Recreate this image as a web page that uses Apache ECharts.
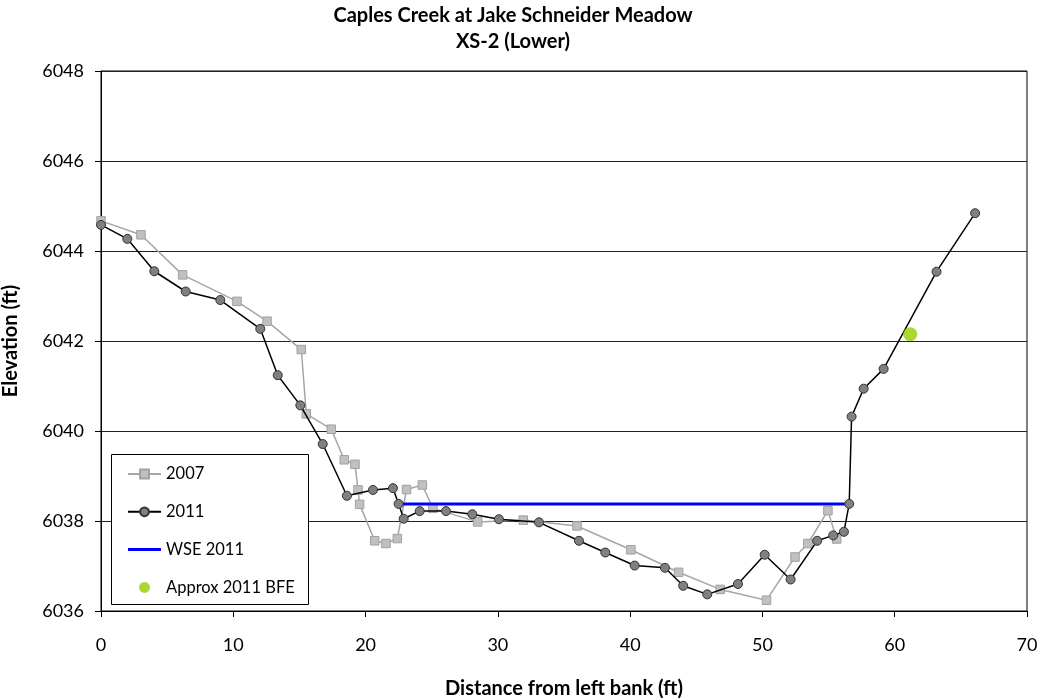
<!DOCTYPE html>
<html>
<head>
<meta charset="utf-8">
<script src="https://cdn.jsdelivr.net/npm/echarts@6/dist/echarts.min.js"></script>
<style>
  html, body { margin: 0; padding: 0; background: #fff; }
  #chart { width: 1044px; height: 700px; }
</style>
</head>
<body>
<div id="chart"></div>
<script>
// Cross-section survey, distance from left bank (ft) vs elevation (ft)
const dist2007 = [0, 3.02, 6.17, 10.28, 12.55, 15.14, 15.52, 17.41, 18.39, 19.2, 19.43, 19.55, 20.69, 21.54, 22.4, 23.1, 24.29, 25.09, 28.47, 31.92, 35.98, 40.06, 43.66, 46.81, 50.31, 52.46, 53.44, 54.95, 55.61];
const elev2007 = [6044.67, 6044.36, 6043.47, 6042.88, 6042.44, 6041.81, 6040.38, 6040.04, 6039.36, 6039.26, 6038.69, 6038.37, 6037.56, 6037.5, 6037.61, 6038.7, 6038.8, 6038.28, 6037.98, 6038.02, 6037.89, 6037.36, 6036.86, 6036.48, 6036.24, 6037.2, 6037.5, 6038.23, 6037.6];

const dist2011 = [0, 1.99, 4.03, 6.4, 9.02, 12.04, 13.36, 15.07, 16.76, 18.59, 20.56, 22.07, 22.5, 22.88, 24.09, 26.08, 28.07, 30.08, 33.11, 36.13, 38.12, 40.34, 42.63, 44.01, 45.83, 48.15, 50.17, 52.13, 54.14, 55.35, 56.16, 56.56, 56.74, 57.65, 59.16, 63.16, 66.08];
const elev2011 = [6044.58, 6044.27, 6043.55, 6043.1, 6042.91, 6042.27, 6041.24, 6040.57, 6039.71, 6038.56, 6038.69, 6038.73, 6038.38, 6038.05, 6038.22, 6038.22, 6038.15, 6038.04, 6037.97, 6037.56, 6037.3, 6037.01, 6036.96, 6036.56, 6036.37, 6036.6, 6037.25, 6036.7, 6037.56, 6037.68, 6037.76, 6038.38, 6040.32, 6040.94, 6041.38, 6043.54, 6044.84];

// Water surface elevation 2011 (start and end stations)
const wseDist = [22.5, 56.56];
const wseElev = [6038.38, 6038.38];

// Approximate 2011 base flood elevation
const bfeDist = [61.17];
const bfeElev = [6042.15];

const xTicks = [0, 70, 10];
const yTicks = [6036, 6048, 2];

const pairs = (xs, ys) => xs.map((x, i) => [x, ys[i]]);

const FONT = 'Lato, "Open Sans", sans-serif';

const chart = echarts.init(document.getElementById('chart'), null, { renderer: 'canvas' });
chart.setOption({
  animation: false,
  backgroundColor: '#ffffff',
  textStyle: { fontFamily: FONT, color: '#000' },
  title: {
    text: 'Caples Creek at Jake Schneider Meadow\nXS-2 (Lower)',
    left: 508,
    textAlign: 'center',
    top: -2,
    textStyle: { fontFamily: FONT, fontSize: 20, fontWeight: 700, color: '#000', lineHeight: 26 }
  },
  grid: {
    left: 101, right: 17, top: 71, bottom: 89,
    outerBoundsMode: 'none',
    containLabel: false,
    show: true, borderColor: '#000', borderWidth: 1, backgroundColor: 'transparent'
  },
  // Legend frame
  graphic: [{
    type: 'rect',
    left: 111, top: 454, z: 50,
    shape: { width: 197, height: 150 },
    style: { fill: '#fff', stroke: '#000', lineWidth: 1 }
  }],
  legend: {
    orient: 'vertical',
    left: 111,
    top: 454,
    z: 100,
    itemWidth: 33,
    itemHeight: 11,
    itemGap: 17.8,
    padding: [10, 10, 6, 16],
    textStyle: { fontFamily: FONT, fontSize: 16.5, color: '#000', lineHeight: 20 },
    data: [
      { name: '2007' },
      { name: '2011' },
      { name: 'WSE 2011', icon: 'path://M0,0L33,0L33,3L0,3Z' },
      { name: 'Approx 2011 BFE', icon: 'circle' }
    ]
  },
  xAxis: {
    type: 'value',
    min: xTicks[0], max: xTicks[1], interval: xTicks[2],
    name: 'Distance from left bank (ft)',
    nameLocation: 'middle',
    nameGap: 68,
    nameTextStyle: { fontFamily: FONT, fontSize: 20, fontWeight: 700, color: '#000' },
    axisLine: { onZero: false, lineStyle: { color: '#000', width: 1 } },
    axisTick: { show: true, inside: false, length: 6, lineStyle: { color: '#000' } },
    axisLabel: { fontFamily: FONT, fontSize: 18, color: '#000', margin: 25 },
    splitLine: { show: false }
  },
  yAxis: {
    type: 'value',
    min: yTicks[0], max: yTicks[1], interval: yTicks[2],
    name: 'Elevation (ft)',
    nameLocation: 'middle',
    nameGap: 80,
    nameRotate: 90,
    nameTextStyle: { fontFamily: FONT, fontSize: 20, fontWeight: 700, color: '#000' },
    axisLine: { show: true, lineStyle: { color: '#000', width: 1 } },
    axisTick: { show: true, inside: false, length: 6, lineStyle: { color: '#000' } },
    axisLabel: { fontFamily: FONT, fontSize: 18, color: '#000', margin: 17, formatter: v => String(v) },
    splitLine: { show: true, lineStyle: { color: '#222', width: 1 } }
  },
  series: [
    {
      name: '2007',
      type: 'line',
      data: pairs(dist2007, elev2007),
      symbol: 'rect',
      symbolSize: 8.5,
      lineStyle: { color: '#a6a6a6', width: 1.5 },
      itemStyle: { color: '#c0c0c0', borderColor: '#a0a0a0', borderWidth: 1 },
      z: 2
    },
    {
      name: '2011',
      type: 'line',
      data: pairs(dist2011, elev2011),
      symbol: 'circle',
      symbolSize: 9,
      lineStyle: { color: '#000', width: 1.5 },
      itemStyle: { color: '#808080', borderColor: '#333', borderWidth: 1 },
      z: 4
    },
    {
      name: 'WSE 2011',
      type: 'line',
      data: pairs(wseDist, wseElev),
      symbol: 'none',
      lineStyle: { color: '#0000ff', width: 3 },
      itemStyle: { color: '#0000ff' },
      z: 3
    },
    {
      name: 'Approx 2011 BFE',
      type: 'scatter',
      data: pairs(bfeDist, bfeElev),
      symbol: 'circle',
      symbolSize: 14,
      itemStyle: { color: '#99cc00' },
      z: 5
    }
  ]
});
</script>
</body>
</html>
